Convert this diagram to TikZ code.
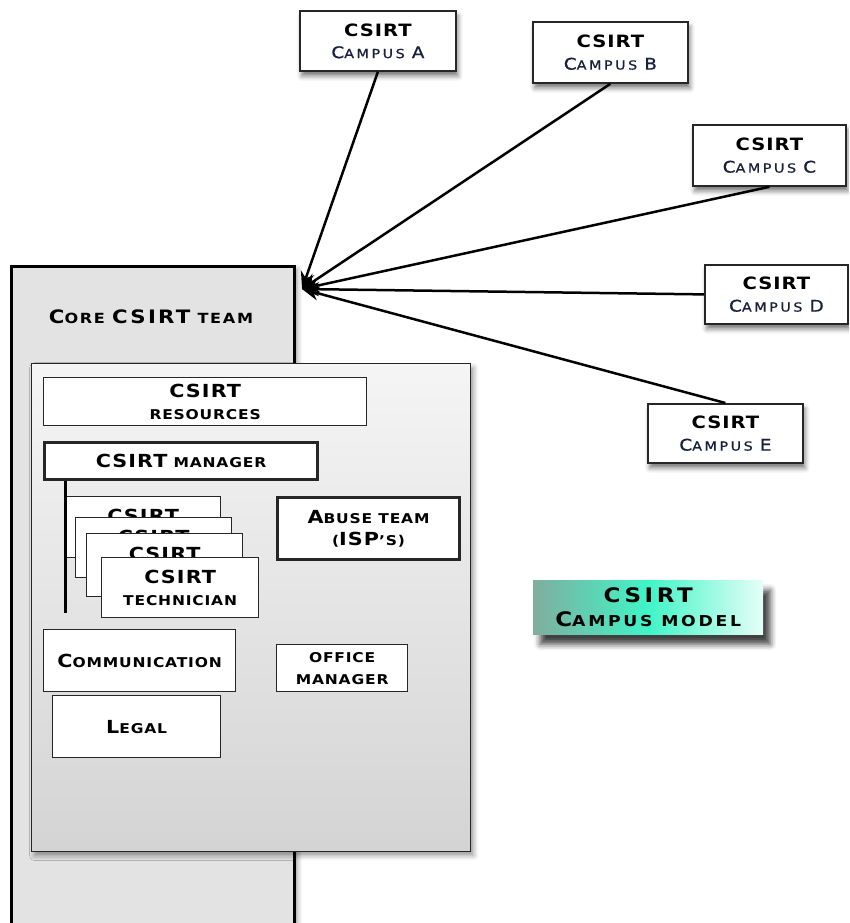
\documentclass[tikz,border=0pt]{standalone}
\usepackage{fontspec}
\setmainfont{DejaVu Sans}[FakeStretch=1.15, LetterSpace=6]
\usepackage{tikz}
\usetikzlibrary{positioning, shapes, arrows.meta, shadows, shadows.blur, calc}
\definecolor{coregray}{rgb}{0.89,0.89,0.89}
\definecolor{paneltop}{rgb}{0.96,0.96,0.96}
\definecolor{panelbot}{rgb}{0.83,0.83,0.83}
\definecolor{legendL}{rgb}{0.50,0.68,0.62}
\definecolor{legendM}{rgb}{0.25,0.96,0.78}
\definecolor{legendR}{rgb}{0.90,1.0,0.97}
\definecolor{inkblue}{rgb}{0.10,0.12,0.24}
% large initial letters for the small caps look
\newcommand\Lc[2][18]{{\fontsize{#1}{22}\selectfont #2}}
\newcommand\campustext[1]{\Lc[17]{CSIRT}\\{\mdseries\color{inkblue}\addfontfeature{LetterSpace=20, FakeBold=0.8}\fontsize{12.5}{22}\selectfont\Lc[16]{C}AMPUS \Lc[16]{#1}}}
\tikzstyle{core}=[%
      rectangle, draw=black, line width=3pt, fill=coregray,
      blur shadow={shadow xshift=3pt, shadow yshift=-3pt, shadow blur radius=5pt},
      anchor=north west, inner sep=0pt
]
\tikzstyle{panel}=[%
      rectangle, draw=black!85, line width=1.3pt, top color=paneltop, bottom color=panelbot,
      blur shadow={shadow xshift=3pt, shadow yshift=-4pt, shadow blur radius=5pt},
      anchor=north west, inner sep=0pt
]
\tikzstyle{unit}=[%
      rectangle, draw=black!85, line width=1.3pt, fill=white, align=center,
      anchor=north west, inner sep=0pt, font=\fontsize{13.5}{22}\selectfont\bfseries
]
\tikzstyle{heavy}=[unit, line width=3pt]
\tikzstyle{campus}=[%
      unit, line width=1.8pt,
      blur shadow={shadow xshift=2pt, shadow yshift=-5pt, shadow blur radius=5pt, shadow opacity=55}
]
\tikzstyle{legend}=[%
      rectangle, left color=legendL, right color=legendR, middle color=legendM, align=center,
      blur shadow={shadow xshift=7pt, shadow yshift=-10pt, shadow blur radius=6pt, shadow opacity=75},
      anchor=north west, inner sep=0pt,
      font=\fontsize{15}{24}\selectfont\bfseries\addfontfeature{LetterSpace=18}
]
\tikzstyle{link}=[line width=2.5pt, -{Stealth[length=17pt,width=14pt]}]

\begin{document}
\begin{tikzpicture}[x=1pt, y=-1pt]
    \path[use as bounding box, clip] (0,0) rectangle (849,923);

    % core team and its panel
    \node[core, minimum width=283pt, minimum height=700pt] (core) at (10,265) {};
    \node[font=\fontsize{14}{22}\selectfont\bfseries\addfontfeature{LetterSpace=12}] (coretitle) at (151,317) {\Lc[18.5]{C}ORE \Lc[18.5]{CSIRT} TEAM};
    \node[panel, minimum width=439pt, minimum height=488pt] (panel) at (31,363) {};

    \node[unit, minimum width=323pt, minimum height=48pt] (res) at (43,377) {\Lc{CSIRT}\\RESOURCES};
    \node[heavy, minimum width=273pt, minimum height=37pt] (mgr) at (43,441) {\Lc{CSIRT} MANAGER};

    \node[unit, minimum width=155pt, minimum height=61pt] (tech1) at (65,496) {\Lc{CSIRT}\\TECHNICIAN};
    \node[unit, minimum width=156pt, minimum height=60pt] (tech2) at (75,517) {\Lc{CSIRT}\\TECHNICIAN};
    \node[unit, minimum width=156pt, minimum height=63pt] (tech3) at (86,533) {\Lc{CSIRT}\\TECHNICIAN};
    \node[unit, minimum width=157pt, minimum height=60pt] (tech4) at (101,557) {\Lc{CSIRT}\\TECHNICIAN};
    \coordinate (stackend) at (65,613);
    \draw[line width=3pt] (mgr.south -| stackend) -- (stackend);

    \node[heavy, minimum width=182pt, minimum height=62pt] (abuse) at (276,496) {\Lc{A}BUSE TEAM\\(\Lc{ISP}'S)};
    \node[unit, minimum width=192pt, minimum height=62pt] (comm) at (43,629) {\Lc{C}OMMUNICATION};
    \node[unit, minimum width=131pt, minimum height=47pt] (office) at (276,644) {OFFICE\\MANAGER};
    \node[unit, minimum width=168pt, minimum height=62pt] (legal) at (52,695) {\Lc{L}EGAL};

    % campus teams
    \node[campus, minimum width=156pt, minimum height=60pt] (campA) at (299,10) {\campustext{A}};
    \node[campus, minimum width=155pt, minimum height=61pt] (campB) at (532,21) {\campustext{B}};
    \node[campus, minimum width=153pt, minimum height=61pt] (campC) at (692,124) {\campustext{C}};
    \node[campus, minimum width=143pt, minimum height=59pt] (campD) at (704,264) {\campustext{D}};
    \node[campus, minimum width=155pt, minimum height=59pt] (campE) at (647,403) {\campustext{E}};

    \node[legend, minimum width=230pt, minimum height=54pt] (model) at (533,580) {\Lc[20]{CSIRT}\\\Lc[20]{C}AMPUS MODEL};

    \coordinate (hub) at (302,289);
    \draw[link] (campA.south) -- (hub);
    \draw[link] (campB.south) -- (hub);
    \draw[link] (campC.south) -- (hub);
    \draw[link] (campD.west) -- (hub);
    \draw[link] (campE.north) -- (hub);

\end{tikzpicture}
\end{document}
